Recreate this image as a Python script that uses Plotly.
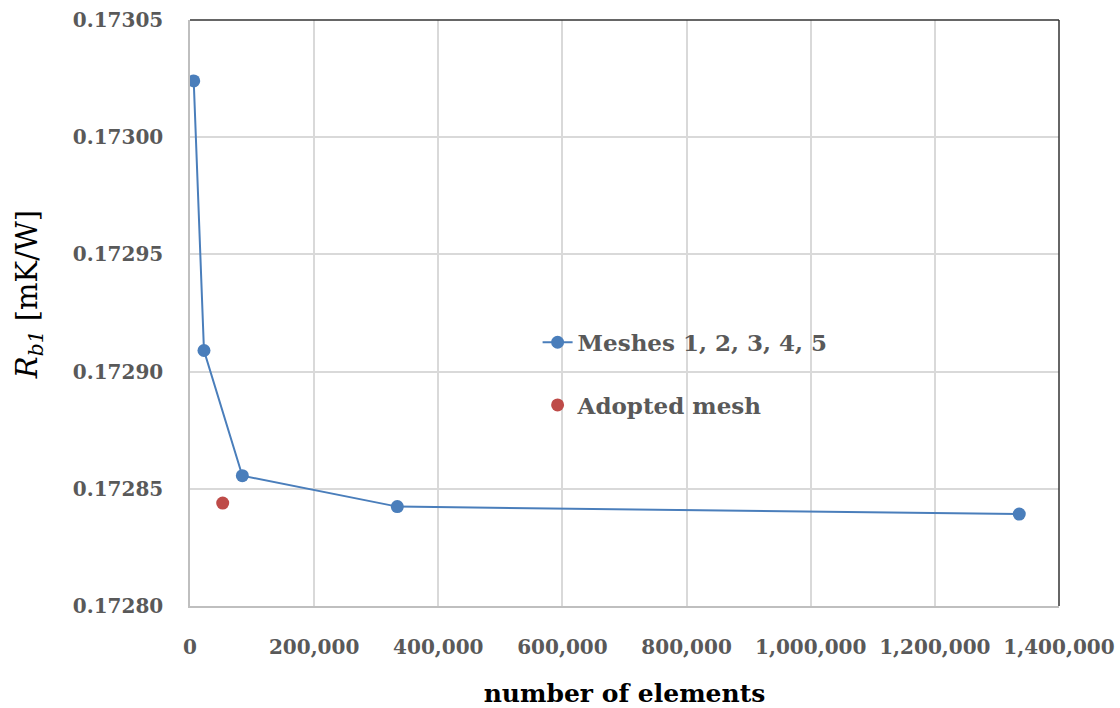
import plotly.graph_objects as go

# Mesh convergence study data
mesh_elements = [6000, 22500, 84300, 334000, 1336000]
mesh_rb1 = [0.173024, 0.172909, 0.1728556, 0.1728424, 0.1728392]
adopted_elements = [52700]
adopted_rb1 = [0.1728439]

x_ticks = [0, 200000, 400000, 600000, 800000, 1000000, 1200000, 1400000]
y_ticks = [0.17280, 0.17285, 0.17290, 0.17295, 0.17300, 0.17305]

BLUE = "#4a7ebb"
RED = "#be4b48"
GREY_TXT = "#595959"
GRID = "#d9d9d9"
FONT = "DejaVu Serif"

fig = go.Figure()
fig.add_trace(go.Scatter(
    x=mesh_elements, y=mesh_rb1, mode="lines+markers",
    name="Meshes 1, 2, 3, 4, 5",
    line=dict(color=BLUE, width=2),
    marker=dict(color=BLUE, size=13),
    legend="legend",
))
fig.add_trace(go.Scatter(
    x=adopted_elements, y=adopted_rb1, mode="markers",
    name="Adopted mesh",
    marker=dict(color=RED, size=13),
    legend="legend2",
))

legend_style = dict(
    font=dict(family=FONT, size=23, color=GREY_TXT, weight="bold"),
    bgcolor="rgba(0,0,0,0)", xanchor="left", yanchor="middle",
)

fig.update_layout(
    width=1120, height=708,
    margin=dict(l=190, r=61, t=20, b=102),
    plot_bgcolor="white", paper_bgcolor="white",
    showlegend=True,
    legend=dict(x=0.40, y=0.45, **legend_style),
    legend2=dict(x=0.40, y=0.343, **legend_style),
    xaxis=dict(
        range=[0, 1400000], tickvals=x_ticks, tickformat=",d",
        automargin=False,
        showgrid=True, gridcolor=GRID, gridwidth=1.5,
        showline=True, linecolor="#bfbfbf", linewidth=1.5,
        zeroline=False, ticks="", ticklabelstandoff=22,
        tickfont=dict(family=FONT, size=20, color=GREY_TXT, weight="bold"),
        title=dict(text="<b>number of elements</b>", standoff=28,
                   font=dict(family=FONT, size=25, color="black")),
    ),
    yaxis=dict(
        range=[0.17280, 0.17305], tickvals=y_ticks, tickformat=".5f",
        automargin=False,
        showgrid=True, gridcolor=GRID, gridwidth=1.5,
        showline=True, linecolor="#bfbfbf", linewidth=1.5,
        zeroline=False, ticks="", ticklabelstandoff=21,
        tickfont=dict(family=FONT, size=20, color=GREY_TXT, weight="bold"),
    ),
    annotations=[
        dict(text="<i>R<sub>b1</sub></i> [mK/W]", textangle=-90,
             xref="paper", yref="paper", x=-0.186, y=0.531,
             xanchor="center", yanchor="middle", showarrow=False,
             font=dict(family=FONT, size=29, color="black")),
    ],
    shapes=[
        dict(type="line", xref="paper", yref="paper", x0=0, x1=1, y0=1, y1=1,
             line=dict(color="#333333", width=1.5)),
        dict(type="line", xref="paper", yref="paper", x0=1, x1=1, y0=0, y1=1,
             line=dict(color="#333333", width=1.5)),
    ],
)

fig.write_html("out.html")
